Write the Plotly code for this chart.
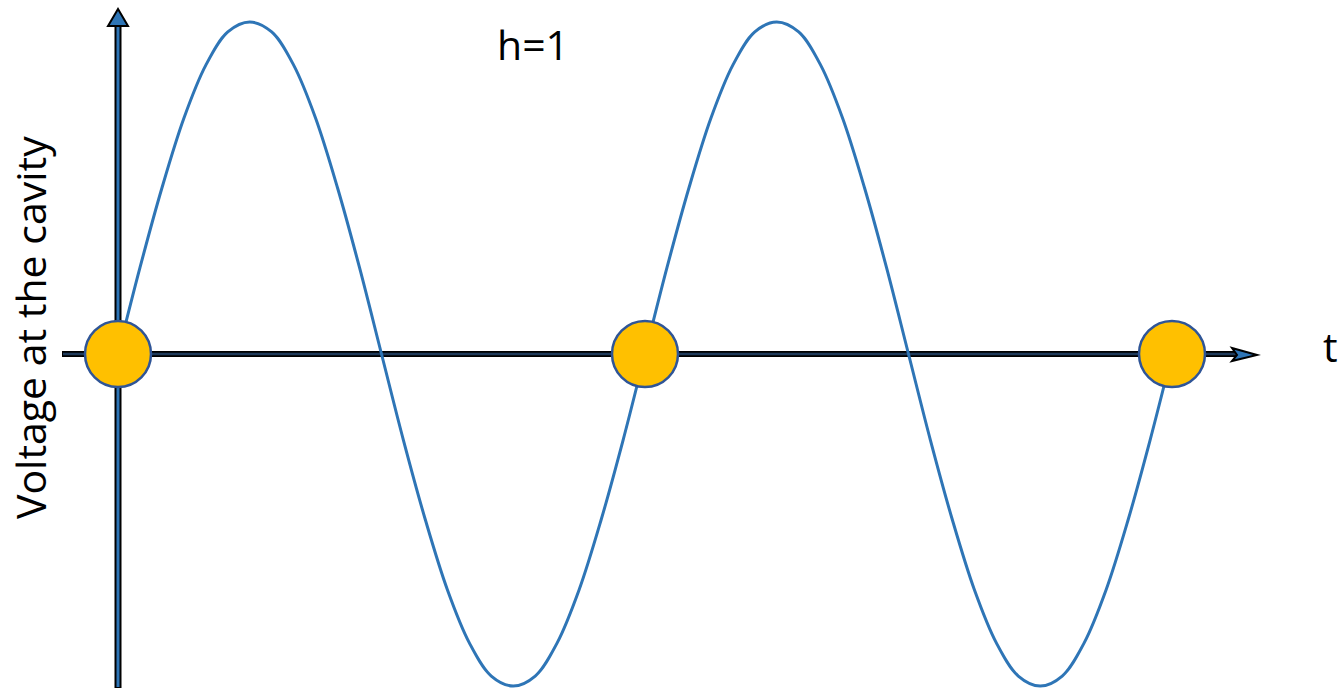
import plotly.graph_objects as go

# Data: RF phase (degrees) and normalised cavity voltage
phase_deg = [0, 15, 30, 45, 60, 75, 90, 105, 120, 135, 150, 165,
             180, 195, 210, 225, 240, 255, 270, 285, 300, 315, 330, 345,
             360, 375, 390, 405, 420, 435, 450, 465, 480, 495, 510, 525,
             540, 555, 570, 585, 600, 615, 630, 645, 660, 675, 690, 705,
             720]
voltage = [0, 0.26, 0.5, 0.71, 0.87, 0.97, 1.0, 0.97, 0.87, 0.71, 0.5, 0.26,
           0, -0.26, -0.5, -0.71, -0.87, -0.97, -1.0, -0.97, -0.87, -0.71, -0.5, -0.26,
           0, 0.26, 0.5, 0.71, 0.87, 0.97, 1.0, 0.97, 0.87, 0.71, 0.5, 0.26,
           0, -0.26, -0.5, -0.71, -0.87, -0.97, -1.0, -0.97, -0.87, -0.71, -0.5, -0.26,
           0]
bunch_phase = [0, 360, 720]
bunch_v = [0, 0, 0]

W, H = 1341, 690
PX_PER_DEG = 527 / 360

def px(x):
    return x / W

def py(y):
    return 1 - y / H

fig = go.Figure()

fig.add_trace(go.Scatter(x=phase_deg, y=voltage, mode="lines",
                         line=dict(color="#2E75B6", width=3, shape="spline", smoothing=1.0),
                         hoverinfo="skip", showlegend=False))

fig.add_trace(go.Scatter(x=bunch_phase, y=bunch_v, mode="markers",
                         marker=dict(size=66, color="#FFC000",
                                     line=dict(color="#2F5597", width=2.5)),
                         hoverinfo="skip", showlegend=False))

shapes = []
# vertical axis (black outline, blue core)
shapes.append(dict(type="line", xref="paper", yref="paper",
                   x0=px(118), x1=px(118), y0=py(688), y1=py(24),
                   line=dict(color="black", width=7), layer="below"))
shapes.append(dict(type="line", xref="paper", yref="paper",
                   x0=px(118), x1=px(118), y0=py(687), y1=py(24),
                   line=dict(color="#2E75B6", width=3), layer="below"))
shapes.append(dict(type="path", xref="paper", yref="paper",
                   path=f"M {px(108)} {py(26)} L {px(118)} {py(9)} L {px(128)} {py(26)} Z",
                   fillcolor="#2E75B6", line=dict(color="black", width=2), layer="below"))
# horizontal axis
shapes.append(dict(type="line", xref="paper", yref="paper",
                   x0=px(62), x1=px(1236), y0=py(354), y1=py(354),
                   line=dict(color="black", width=6), layer="below"))
shapes.append(dict(type="line", xref="paper", yref="paper",
                   x0=px(63), x1=px(1236), y0=py(354), y1=py(354),
                   line=dict(color="#1F3A5A", width=2.5), layer="below"))
shapes.append(dict(type="path", xref="paper", yref="paper",
                   path=f"M {px(1232)} {py(348)} L {px(1257)} {py(355)} L {px(1232)} {py(361)} L {px(1237)} {py(355)} Z",
                   fillcolor="#2E75B6", line=dict(color="black", width=2), layer="below"))

fig.update_layout(
    width=W, height=H,
    margin=dict(l=0, r=0, t=0, b=0),
    paper_bgcolor="white", plot_bgcolor="white",
    xaxis=dict(range=[-118 / PX_PER_DEG, (W - 118) / PX_PER_DEG], visible=False, fixedrange=True),
    yaxis=dict(range=[-(H - 354) / 332, 354 / 332], visible=False, fixedrange=True),
    shapes=shapes,
    font=dict(family="Open Sans", color="black"),
    annotations=[
        dict(text="h=1", xref="paper", yref="paper", x=px(533), y=py(44),
             xanchor="center", yanchor="middle",
             showarrow=False, font=dict(size=41)),
        dict(text="t", xref="paper", yref="paper", x=px(1330), y=py(346),
             xanchor="center", yanchor="middle",
             showarrow=False, font=dict(size=41)),
        dict(text="Voltage at the cavity", xref="paper", yref="paper",
             x=px(30), y=py(328), textangle=-90, showarrow=False,
             xanchor="center", yanchor="middle",
             font=dict(size=41)),
    ],
)

fig.write_html("out.html", post_script="document.body.style.margin='0';",
               config={"displayModeBar": False})
